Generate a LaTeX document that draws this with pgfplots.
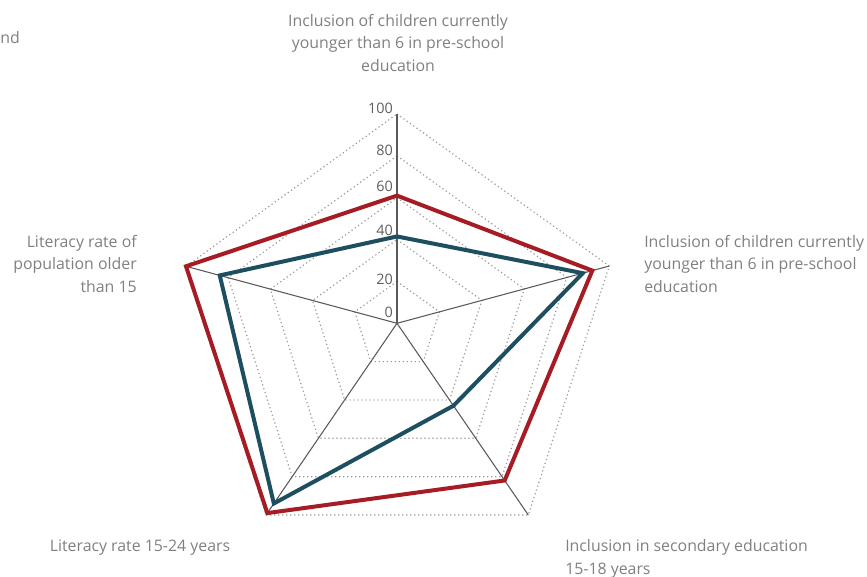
\documentclass[border=0pt]{standalone}
\usepackage{pgfplots}
\usepackage{pgfplotstable}
\pgfplotsset{compat=1.18}
\usepackage{fontspec}
\setmainfont{Open Sans}
\definecolor{redline}{HTML}{A51C24}
\definecolor{blueline}{HTML}{1D4F60}
\definecolor{txt}{HTML}{808080}
\definecolor{tick}{HTML}{5E5E5E}
\definecolor{spoke}{HTML}{5A5A5A}
\definecolor{ring}{HTML}{9A9A9A}
% direction of each spoke (pixels for value 100), and the two series
\pgfplotstableread{
idx dx     dy     red   blue
0   0      209.3  61    41.5
1   212.3  57.3   92    87.5
2   131.3  -191.7 82    43
3   -131.0 -191.7 99    94
4   -211.0 57.0   100   84
5   0      209.3  61    41.5
}\radar
\tikzset{lbl/.style={font=\fontsize{11.9}{17.1}\selectfont, text=txt, inner sep=0pt},
         tck/.style={anchor=east, text=tick, inner sep=0pt, font=\fontsize{10.8}{12}\selectfont}}
\begin{document}
\begin{tikzpicture}
\useasboundingbox (0,0) rectangle (650.25pt,432pt);
\begin{axis}[
  at={(0,0)}, anchor=south west,
  scale only axis, width=650.25pt, height=432pt,
  xmin=-397, xmax=470, ymin=-252.7, ymax=323.3,
  hide axis, clip=false,
]
% rings
\pgfplotsinvokeforeach{20,40,60,80,100}{
  \addplot[ring, line width=0.9pt, dash pattern=on 0.9pt off 2.1pt, no marks]
    table[x expr=\thisrow{dx}*#1/100, y expr=\thisrow{dy}*#1/100] {\radar};
}
% spokes
\addplot[spoke, line width=0.8pt, no marks] coordinates {(0,0) (0,209.3)};
\addplot[spoke, line width=0.8pt, no marks] coordinates {(0,0) (212.3,57.3)};
\addplot[spoke, line width=0.8pt, no marks] coordinates {(0,0) (131.3,-191.7)};
\addplot[spoke, line width=0.8pt, no marks] coordinates {(0,0) (-131.0,-191.7)};
\addplot[spoke, line width=0.8pt, no marks] coordinates {(0,0) (-211.0,57.0)};
% series
\addplot[redline, line width=3pt, line join=miter, no marks]
  table[x expr=\thisrow{dx}*\thisrow{red}/100, y expr=\thisrow{dy}*\thisrow{red}/100] {\radar};
\addplot[blueline, line width=3pt, line join=miter, no marks]
  table[x expr=\thisrow{dx}*\thisrow{blue}/100, y expr=\thisrow{dy}*\thisrow{blue}/100] {\radar};
% tick labels
\node[tck] at (axis cs:-4,215.3) {100};
\node[tck] at (axis cs:-4,173.3) {80};
\node[tck] at (axis cs:-4,137.3) {60};
\node[tck] at (axis cs:-4,93.3) {40};
\node[tck] at (axis cs:-4,44.3) {20};
\node[tck] at (axis cs:-4,11.3) {0};
% category labels
\node[lbl, align=center] at (axis cs:1,280.3) {Inclusion of children currently\\younger than 6 in pre-school\\education};
\node[lbl, anchor=west, align=left] at (axis cs:247,59.3) {Inclusion of children currently\\younger than 6 in pre-school\\education};
\node[lbl, anchor=east, align=right] at (axis cs:-260,59.3) {Literacy rate of\\population older\\than 15};
\node[lbl] at (axis cs:-257,-224.5) {Literacy rate 15-24 years};
\node[lbl, anchor=west, align=left] at (axis cs:168,-235.2) {Inclusion in secondary education\\15-18 years};
\node[lbl, anchor=west] at (axis cs:-397,285.3) {nd};
\end{axis}
\end{tikzpicture}
\end{document}
